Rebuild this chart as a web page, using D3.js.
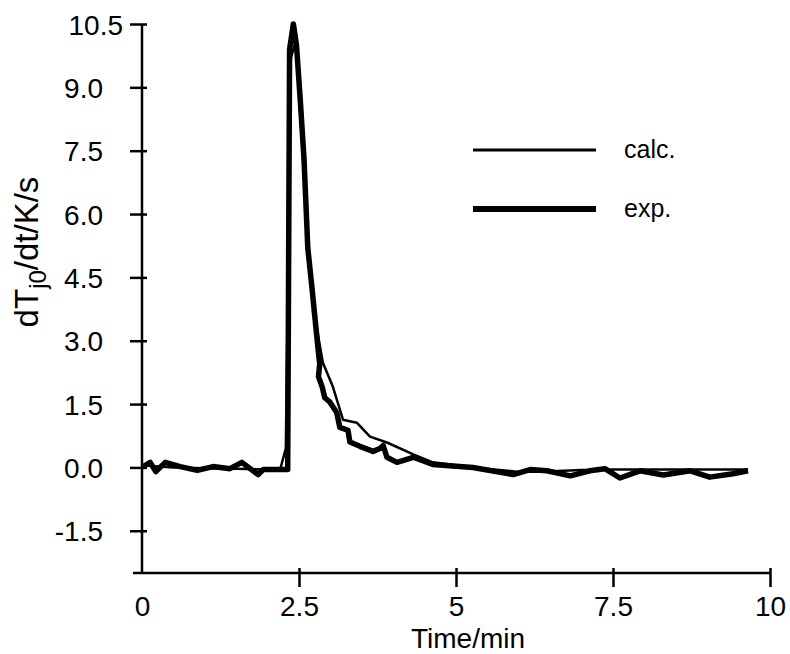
<!DOCTYPE html>
<html>
<head>
<meta charset="utf-8">
<script src="https://cdn.jsdelivr.net/npm/d3@7"></script>
<style>
  body { margin: 0; background: #fff; }
  text { font-family: "Liberation Sans", Arial, Helvetica, sans-serif; fill: #000; }
</style>
</head>
<body>
<div id="chart"></div>
<script>
// time in minutes, value in K/s
var expTime = [0.02, 0.13, 0.22, 0.37, 0.61, 0.88, 1.13, 1.40, 1.59, 1.85, 1.93, 2.17, 2.32,
    2.35, 2.41, 2.46, 2.52, 2.58, 2.64, 2.71, 2.75, 2.80, 2.83, 2.81, 2.87, 2.91, 2.99, 3.10,
    3.15, 3.28, 3.31, 3.47, 3.68, 3.79, 3.84, 3.90, 4.06, 4.32, 4.63, 5.27, 5.91, 6.18, 6.45,
    6.82, 7.13, 7.37, 7.61, 7.93, 8.30, 8.73, 9.04, 9.41, 9.65];
var expValue = [0.02, 0.12, -0.10, 0.12, 0.02, -0.07, 0.02, -0.03, 0.12, -0.17, -0.05, -0.05, -0.05,
    9.9, 10.5, 10.0, 8.7, 7.3, 5.2, 4.2, 3.6, 2.86, 2.45, 2.15, 1.9, 1.65, 1.55, 1.3,
    0.95, 0.88, 0.6, 0.5, 0.38, 0.45, 0.52, 0.24, 0.12, 0.24, 0.07, 0.0, -0.17, -0.05, -0.08,
    -0.2, -0.08, -0.03, -0.25, -0.08, -0.18, -0.08, -0.23, -0.15, -0.08];

var calcTime = [0.0, 0.5, 1.0, 1.5, 2.0, 2.20, 2.29, 2.37, 2.45, 2.56, 2.64, 2.75, 2.83, 2.88,
    3.04, 3.20, 3.42, 3.63, 3.90, 4.32, 4.63, 5.27, 5.97, 6.34, 7.0, 7.5, 8.5, 9.65];
var calcValue = [0.05, 0.0, -0.02, -0.03, -0.05, -0.05, 0.45, 9.7, 10.1, 7.4, 5.2, 3.6, 2.9, 2.48,
    1.91, 1.13, 1.06, 0.73, 0.59, 0.31, 0.12, 0.0, -0.1, -0.1, -0.06, -0.05, -0.05, -0.05];

var xTicks = [0, 2.5, 5, 7.5, 10];
var xTickLabels = ["0", "2.5", "5", "7.5", "10"];
var yTicks = [10.5, 9.0, 7.5, 6.0, 4.5, 3.0, 1.5, 0.0, -1.5];

var legendNames = ["calc.", "exp."];

var width = 790, height = 654;
var margin = { left: 142, right: 20, top: 24, bottom: 81 };

var svg = d3.select("#chart")
    .append("svg")
        .attr("width", width)
        .attr("height", height);

var x = d3.scaleLinear()
    .domain([0, 10])
    .range([margin.left, width - margin.right]);

var y = d3.scaleLinear()
    .domain([-2.5, 10.5])
    .range([height - margin.bottom, margin.top]);

var expData = expTime.map(function(t, i){ return { t: t, v: expValue[i] }; });
var calcData = calcTime.map(function(t, i){ return { t: t, v: calcValue[i] }; });

// axes
var yAxis = svg.append("g")
    .attr("transform", "translate(" + x(0) + ",0)")
    .call(d3.axisLeft(y).tickValues(yTicks).tickSize(12).tickPadding(27)
        .tickFormat(function(d){ return d.toFixed(1); }));
yAxis.select(".domain").remove();
yAxis.selectAll(".tick line").attr("x1", 5).attr("stroke-width", 2.5);
yAxis.selectAll(".tick text")
    .attr("font-size", "28px")
    .attr("dy", "0.36em")
    .attr("dx", function(d){ return d == 10.5 ? 20 : 0; });

var xAxis = svg.append("g")
    .attr("transform", "translate(0," + y(-2.5) + ")")
    .call(d3.axisBottom(x).tickValues(xTicks).tickSize(14).tickPadding(9)
        .tickFormat(function(d, i){ return xTickLabels[i]; }));
xAxis.select(".domain").remove();
xAxis.selectAll(".tick line").attr("y1", -5).attr("stroke-width", 2.5);
xAxis.selectAll(".tick").filter(function(d){ return d == 0; }).select("line").remove();
xAxis.selectAll(".tick text").attr("font-size", "28px");

svg.append("line")
    .attr("x1", x(0)).attr("x2", x(0))
    .attr("y1", y(10.5)).attr("y2", y(-2.5))
    .attr("stroke", "#000").attr("stroke-width", 2.5);
svg.append("line")
    .attr("x1", x(0) - 9).attr("x2", x(10))
    .attr("y1", y(-2.5)).attr("y2", y(-2.5))
    .attr("stroke", "#000").attr("stroke-width", 2.5);

// axis titles
svg.append("text")
    .attr("x", 468)
    .attr("y", 648)
    .attr("text-anchor", "middle")
    .attr("font-size", "28px")
    .text("Time/min");

var yTitle = svg.append("text")
    .attr("transform", "translate(38,252) rotate(-90)")
    .attr("text-anchor", "middle")
    .attr("font-size", "33px");
yTitle.append("tspan").text("dT");
yTitle.append("tspan").attr("font-size", "24px").attr("dy", 8).text("j0");
yTitle.append("tspan").attr("dy", -8).text("/dt/K/s");

// curves
var line = d3.line()
    .x(function(d){ return x(d.t); })
    .y(function(d){ return y(d.v); });

svg.append("path")
    .datum(calcData)
    .attr("fill", "none")
    .attr("stroke", "#000")
    .attr("stroke-width", 2.5)
    .attr("stroke-linejoin", "round")
    .attr("d", line);

svg.append("path")
    .datum(expData)
    .attr("fill", "none")
    .attr("stroke", "#000")
    .attr("stroke-width", 5.5)
    .attr("stroke-linejoin", "round")
    .attr("d", line);

// legend
var legend = svg.append("g");
legendNames.forEach(function(name, i){
    var ly = 150 + i * 59;
    legend.append("line")
        .attr("x1", 473).attr("x2", 596)
        .attr("y1", ly).attr("y2", ly)
        .attr("stroke", "#000")
        .attr("stroke-width", i == 0 ? 3 : 6);
    legend.append("text")
        .attr("x", 624)
        .attr("y", ly)
        .attr("dy", "0.3em")
        .attr("font-size", "25px")
        .text(name);
});
</script>
</body>
</html>
